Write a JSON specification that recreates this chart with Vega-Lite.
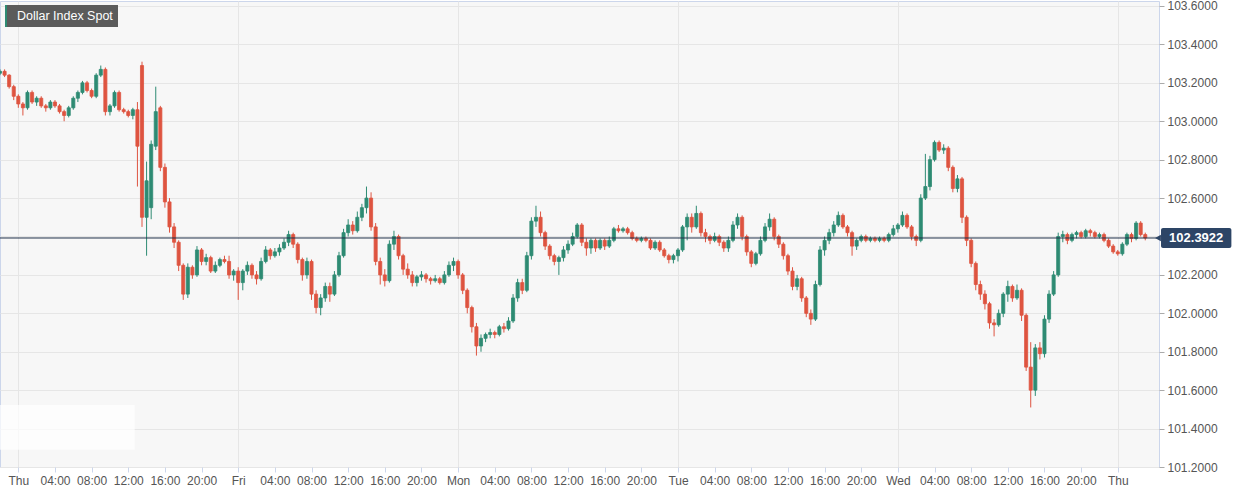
{
"$schema":"https://vega.github.io/schema/vega-lite/v6.json",
"width":1159,"height":466,"autosize":"none",
"padding":{"left":0,"top":1,"right":77,"bottom":28},
"background":"#ffffff",
"config":{"view":{"fill":"#f7f7f7","stroke":"#ccd6eb","strokeWidth":1},"font":"Liberation Sans"},
"resolve":{"axis":{"x":"independent","y":"independent"}},
"datasets":{
"candles":[
{"t":-2,"o":103.25,"h":103.27,"l":103.24,"c":103.26},
{"t":-1.5,"o":103.26,"h":103.27,"l":103.23,"c":103.24},
{"t":-1,"o":103.24,"h":103.245,"l":103.17,"c":103.18},
{"t":-0.5,"o":103.18,"h":103.19,"l":103.11,"c":103.13},
{"t":0,"o":103.13,"h":103.14,"l":103.07,"c":103.09},
{"t":0.5,"o":103.09,"h":103.1,"l":103.03,"c":103.07},
{"t":1,"o":103.07,"h":103.16,"l":103.06,"c":103.15},
{"t":1.5,"o":103.15,"h":103.16,"l":103.09,"c":103.1},
{"t":2,"o":103.1,"h":103.13,"l":103.08,"c":103.12},
{"t":2.5,"o":103.12,"h":103.13,"l":103.07,"c":103.08},
{"t":3,"o":103.08,"h":103.09,"l":103.05,"c":103.07},
{"t":3.5,"o":103.07,"h":103.11,"l":103.06,"c":103.1},
{"t":4,"o":103.1,"h":103.11,"l":103.07,"c":103.08},
{"t":4.5,"o":103.08,"h":103.09,"l":103.04,"c":103.05},
{"t":5,"o":103.05,"h":103.06,"l":103.0,"c":103.03},
{"t":5.5,"o":103.03,"h":103.08,"l":103.02,"c":103.07},
{"t":6,"o":103.07,"h":103.13,"l":103.06,"c":103.12},
{"t":6.5,"o":103.12,"h":103.16,"l":103.1,"c":103.15},
{"t":7,"o":103.15,"h":103.21,"l":103.14,"c":103.2},
{"t":7.5,"o":103.2,"h":103.21,"l":103.15,"c":103.16},
{"t":8,"o":103.16,"h":103.17,"l":103.12,"c":103.13},
{"t":8.5,"o":103.13,"h":103.25,"l":103.12,"c":103.24},
{"t":9,"o":103.24,"h":103.29,"l":103.23,"c":103.27},
{"t":9.5,"o":103.27,"h":103.28,"l":103.03,"c":103.05},
{"t":10,"o":103.05,"h":103.09,"l":103.03,"c":103.08},
{"t":10.5,"o":103.08,"h":103.16,"l":103.07,"c":103.15},
{"t":11,"o":103.15,"h":103.16,"l":103.05,"c":103.06},
{"t":11.5,"o":103.06,"h":103.07,"l":103.04,"c":103.05},
{"t":12,"o":103.05,"h":103.06,"l":103.02,"c":103.03},
{"t":12.5,"o":103.03,"h":103.07,"l":103.01,"c":103.06},
{"t":13,"o":103.06,"h":103.1,"l":102.66,"c":102.87},
{"t":13.5,"o":103.29,"h":103.31,"l":102.45,"c":102.5},
{"t":14,"o":102.5,"h":102.79,"l":102.3,"c":102.69},
{"t":14.5,"o":102.55,"h":102.9,"l":102.49,"c":102.88},
{"t":15,"o":102.87,"h":103.18,"l":102.85,"c":103.05},
{"t":15.5,"o":103.07,"h":103.08,"l":102.74,"c":102.76},
{"t":16,"o":102.76,"h":102.78,"l":102.55,"c":102.58},
{"t":16.5,"o":102.58,"h":102.6,"l":102.42,"c":102.45},
{"t":17,"o":102.45,"h":102.47,"l":102.34,"c":102.37},
{"t":17.5,"o":102.37,"h":102.38,"l":102.22,"c":102.25},
{"t":18,"o":102.25,"h":102.26,"l":102.07,"c":102.1},
{"t":18.5,"o":102.1,"h":102.26,"l":102.08,"c":102.24},
{"t":19,"o":102.24,"h":102.25,"l":102.18,"c":102.2},
{"t":19.5,"o":102.2,"h":102.35,"l":102.19,"c":102.33},
{"t":20,"o":102.33,"h":102.34,"l":102.25,"c":102.27},
{"t":20.5,"o":102.27,"h":102.31,"l":102.25,"c":102.29},
{"t":21,"o":102.29,"h":102.3,"l":102.21,"c":102.22},
{"t":21.5,"o":102.22,"h":102.27,"l":102.21,"c":102.25},
{"t":22,"o":102.25,"h":102.29,"l":102.24,"c":102.28},
{"t":22.5,"o":102.28,"h":102.3,"l":102.26,"c":102.27},
{"t":23,"o":102.27,"h":102.3,"l":102.18,"c":102.2},
{"t":23.5,"o":102.2,"h":102.23,"l":102.17,"c":102.22},
{"t":24,"o":102.22,"h":102.24,"l":102.07,"c":102.16},
{"t":24.5,"o":102.16,"h":102.23,"l":102.12,"c":102.22},
{"t":25,"o":102.22,"h":102.27,"l":102.2,"c":102.25},
{"t":25.5,"o":102.25,"h":102.26,"l":102.18,"c":102.2},
{"t":26,"o":102.2,"h":102.22,"l":102.15,"c":102.18},
{"t":26.5,"o":102.18,"h":102.29,"l":102.17,"c":102.27},
{"t":27,"o":102.27,"h":102.35,"l":102.26,"c":102.33},
{"t":27.5,"o":102.33,"h":102.34,"l":102.28,"c":102.3},
{"t":28,"o":102.3,"h":102.34,"l":102.29,"c":102.32},
{"t":28.5,"o":102.32,"h":102.36,"l":102.3,"c":102.34},
{"t":29,"o":102.34,"h":102.39,"l":102.33,"c":102.37},
{"t":29.5,"o":102.37,"h":102.43,"l":102.35,"c":102.41},
{"t":30,"o":102.41,"h":102.42,"l":102.34,"c":102.36},
{"t":30.5,"o":102.36,"h":102.37,"l":102.26,"c":102.28},
{"t":31,"o":102.28,"h":102.29,"l":102.17,"c":102.2},
{"t":31.5,"o":102.2,"h":102.29,"l":102.18,"c":102.27},
{"t":32,"o":102.27,"h":102.28,"l":102.07,"c":102.1},
{"t":32.5,"o":102.1,"h":102.12,"l":102.0,"c":102.03},
{"t":33,"o":102.03,"h":102.1,"l":101.99,"c":102.08},
{"t":33.5,"o":102.08,"h":102.16,"l":102.06,"c":102.14},
{"t":34,"o":102.14,"h":102.16,"l":102.06,"c":102.1},
{"t":34.5,"o":102.1,"h":102.22,"l":102.09,"c":102.2},
{"t":35,"o":102.2,"h":102.32,"l":102.19,"c":102.3},
{"t":35.5,"o":102.3,"h":102.44,"l":102.29,"c":102.42},
{"t":36,"o":102.42,"h":102.49,"l":102.4,"c":102.46},
{"t":36.5,"o":102.46,"h":102.48,"l":102.41,"c":102.43},
{"t":37,"o":102.43,"h":102.53,"l":102.42,"c":102.5},
{"t":37.5,"o":102.5,"h":102.57,"l":102.48,"c":102.55},
{"t":38,"o":102.55,"h":102.66,"l":102.52,"c":102.6},
{"t":38.5,"o":102.6,"h":102.63,"l":102.43,"c":102.45},
{"t":39,"o":102.45,"h":102.47,"l":102.25,"c":102.27},
{"t":39.5,"o":102.27,"h":102.29,"l":102.15,"c":102.2},
{"t":40,"o":102.2,"h":102.23,"l":102.14,"c":102.17},
{"t":40.5,"o":102.17,"h":102.38,"l":102.16,"c":102.36},
{"t":41,"o":102.36,"h":102.43,"l":102.33,"c":102.4},
{"t":41.5,"o":102.4,"h":102.41,"l":102.28,"c":102.3},
{"t":42,"o":102.3,"h":102.31,"l":102.2,"c":102.23},
{"t":42.5,"o":102.23,"h":102.26,"l":102.18,"c":102.2},
{"t":43,"o":102.2,"h":102.22,"l":102.14,"c":102.16},
{"t":43.5,"o":102.16,"h":102.2,"l":102.14,"c":102.19},
{"t":44,"o":102.19,"h":102.22,"l":102.17,"c":102.2},
{"t":44.5,"o":102.2,"h":102.21,"l":102.16,"c":102.18},
{"t":45,"o":102.18,"h":102.19,"l":102.15,"c":102.17},
{"t":45.5,"o":102.17,"h":102.2,"l":102.16,"c":102.18},
{"t":46,"o":102.18,"h":102.19,"l":102.15,"c":102.16},
{"t":46.5,"o":102.16,"h":102.22,"l":102.15,"c":102.2},
{"t":47,"o":102.2,"h":102.27,"l":102.19,"c":102.25},
{"t":47.5,"o":102.25,"h":102.29,"l":102.22,"c":102.27},
{"t":48,"o":102.27,"h":102.28,"l":102.18,"c":102.2},
{"t":48.5,"o":102.2,"h":102.21,"l":102.1,"c":102.12},
{"t":49,"o":102.12,"h":102.13,"l":102.0,"c":102.03},
{"t":49.5,"o":102.03,"h":102.04,"l":101.9,"c":101.93},
{"t":50,"o":101.93,"h":101.95,"l":101.78,"c":101.83},
{"t":50.5,"o":101.83,"h":101.89,"l":101.8,"c":101.87},
{"t":51,"o":101.87,"h":101.9,"l":101.85,"c":101.89},
{"t":51.5,"o":101.89,"h":101.92,"l":101.87,"c":101.9},
{"t":52,"o":101.9,"h":101.91,"l":101.87,"c":101.89},
{"t":52.5,"o":101.89,"h":101.94,"l":101.88,"c":101.93},
{"t":53,"o":101.93,"h":101.95,"l":101.9,"c":101.92},
{"t":53.5,"o":101.92,"h":101.98,"l":101.91,"c":101.96},
{"t":54,"o":101.96,"h":102.1,"l":101.95,"c":102.08},
{"t":54.5,"o":102.08,"h":102.18,"l":102.06,"c":102.16},
{"t":55,"o":102.16,"h":102.18,"l":102.1,"c":102.12},
{"t":55.5,"o":102.12,"h":102.32,"l":102.11,"c":102.3},
{"t":56,"o":102.3,"h":102.5,"l":102.28,"c":102.48},
{"t":56.5,"o":102.48,"h":102.56,"l":102.45,"c":102.5},
{"t":57,"o":102.5,"h":102.53,"l":102.4,"c":102.42},
{"t":57.5,"o":102.42,"h":102.43,"l":102.33,"c":102.35},
{"t":58,"o":102.35,"h":102.36,"l":102.28,"c":102.3},
{"t":58.5,"o":102.3,"h":102.31,"l":102.25,"c":102.27},
{"t":59,"o":102.27,"h":102.3,"l":102.2,"c":102.29},
{"t":59.5,"o":102.29,"h":102.35,"l":102.27,"c":102.33},
{"t":60,"o":102.33,"h":102.38,"l":102.31,"c":102.36},
{"t":60.5,"o":102.36,"h":102.42,"l":102.35,"c":102.4},
{"t":61,"o":102.4,"h":102.47,"l":102.39,"c":102.46},
{"t":61.5,"o":102.46,"h":102.47,"l":102.35,"c":102.37},
{"t":62,"o":102.37,"h":102.39,"l":102.3,"c":102.34},
{"t":62.5,"o":102.34,"h":102.39,"l":102.31,"c":102.38},
{"t":63,"o":102.38,"h":102.39,"l":102.32,"c":102.34},
{"t":63.5,"o":102.34,"h":102.39,"l":102.33,"c":102.38},
{"t":64,"o":102.38,"h":102.39,"l":102.33,"c":102.35},
{"t":64.5,"o":102.35,"h":102.4,"l":102.34,"c":102.38},
{"t":65,"o":102.38,"h":102.45,"l":102.37,"c":102.44},
{"t":65.5,"o":102.44,"h":102.46,"l":102.42,"c":102.43},
{"t":66,"o":102.43,"h":102.45,"l":102.42,"c":102.44},
{"t":66.5,"o":102.44,"h":102.45,"l":102.41,"c":102.42},
{"t":67,"o":102.42,"h":102.43,"l":102.38,"c":102.39},
{"t":67.5,"o":102.39,"h":102.4,"l":102.37,"c":102.38},
{"t":68,"o":102.38,"h":102.4,"l":102.37,"c":102.39},
{"t":68.5,"o":102.39,"h":102.4,"l":102.37,"c":102.38},
{"t":69,"o":102.38,"h":102.39,"l":102.33,"c":102.34},
{"t":69.5,"o":102.34,"h":102.38,"l":102.33,"c":102.37},
{"t":70,"o":102.37,"h":102.38,"l":102.32,"c":102.33},
{"t":70.5,"o":102.33,"h":102.34,"l":102.29,"c":102.3},
{"t":71,"o":102.3,"h":102.31,"l":102.26,"c":102.28},
{"t":71.5,"o":102.28,"h":102.31,"l":102.26,"c":102.3},
{"t":72,"o":102.3,"h":102.34,"l":102.27,"c":102.33},
{"t":72.5,"o":102.33,"h":102.46,"l":102.32,"c":102.45},
{"t":73,"o":102.45,"h":102.52,"l":102.38,"c":102.5},
{"t":73.5,"o":102.5,"h":102.52,"l":102.42,"c":102.45},
{"t":74,"o":102.45,"h":102.56,"l":102.44,"c":102.52},
{"t":74.5,"o":102.52,"h":102.53,"l":102.4,"c":102.42},
{"t":75,"o":102.42,"h":102.44,"l":102.37,"c":102.4},
{"t":75.5,"o":102.4,"h":102.41,"l":102.36,"c":102.38},
{"t":76,"o":102.38,"h":102.42,"l":102.37,"c":102.4},
{"t":76.5,"o":102.4,"h":102.41,"l":102.35,"c":102.37},
{"t":77,"o":102.37,"h":102.38,"l":102.32,"c":102.34},
{"t":77.5,"o":102.34,"h":102.4,"l":102.32,"c":102.38},
{"t":78,"o":102.38,"h":102.48,"l":102.37,"c":102.46},
{"t":78.5,"o":102.46,"h":102.52,"l":102.44,"c":102.5},
{"t":79,"o":102.5,"h":102.51,"l":102.38,"c":102.4},
{"t":79.5,"o":102.4,"h":102.41,"l":102.3,"c":102.32},
{"t":80,"o":102.32,"h":102.33,"l":102.24,"c":102.26},
{"t":80.5,"o":102.26,"h":102.32,"l":102.25,"c":102.31},
{"t":81,"o":102.31,"h":102.4,"l":102.3,"c":102.38},
{"t":81.5,"o":102.38,"h":102.47,"l":102.37,"c":102.45},
{"t":82,"o":102.45,"h":102.52,"l":102.43,"c":102.49},
{"t":82.5,"o":102.49,"h":102.5,"l":102.38,"c":102.4},
{"t":83,"o":102.4,"h":102.41,"l":102.34,"c":102.36},
{"t":83.5,"o":102.36,"h":102.37,"l":102.28,"c":102.3},
{"t":84,"o":102.3,"h":102.31,"l":102.2,"c":102.22},
{"t":84.5,"o":102.22,"h":102.24,"l":102.12,"c":102.14},
{"t":85,"o":102.14,"h":102.2,"l":102.12,"c":102.18},
{"t":85.5,"o":102.18,"h":102.19,"l":102.06,"c":102.08},
{"t":86,"o":102.08,"h":102.09,"l":101.98,"c":102.0},
{"t":86.5,"o":102.0,"h":102.02,"l":101.94,"c":101.97},
{"t":87,"o":101.97,"h":102.17,"l":101.96,"c":102.15},
{"t":87.5,"o":102.15,"h":102.35,"l":102.14,"c":102.33},
{"t":88,"o":102.33,"h":102.4,"l":102.3,"c":102.38},
{"t":88.5,"o":102.38,"h":102.44,"l":102.36,"c":102.42},
{"t":89,"o":102.42,"h":102.48,"l":102.4,"c":102.46},
{"t":89.5,"o":102.46,"h":102.53,"l":102.45,"c":102.51},
{"t":90,"o":102.51,"h":102.52,"l":102.44,"c":102.45},
{"t":90.5,"o":102.45,"h":102.46,"l":102.4,"c":102.42},
{"t":91,"o":102.42,"h":102.43,"l":102.3,"c":102.35},
{"t":91.5,"o":102.35,"h":102.39,"l":102.33,"c":102.38},
{"t":92,"o":102.38,"h":102.41,"l":102.37,"c":102.4},
{"t":92.5,"o":102.4,"h":102.41,"l":102.37,"c":102.38},
{"t":93,"o":102.38,"h":102.4,"l":102.37,"c":102.39},
{"t":93.5,"o":102.39,"h":102.4,"l":102.37,"c":102.38},
{"t":94,"o":102.38,"h":102.4,"l":102.37,"c":102.39},
{"t":94.5,"o":102.39,"h":102.4,"l":102.37,"c":102.38},
{"t":95,"o":102.38,"h":102.42,"l":102.37,"c":102.41},
{"t":95.5,"o":102.41,"h":102.46,"l":102.4,"c":102.44},
{"t":96,"o":102.44,"h":102.47,"l":102.42,"c":102.46},
{"t":96.5,"o":102.46,"h":102.53,"l":102.45,"c":102.51},
{"t":97,"o":102.51,"h":102.52,"l":102.44,"c":102.45},
{"t":97.5,"o":102.45,"h":102.46,"l":102.38,"c":102.4},
{"t":98,"o":102.4,"h":102.41,"l":102.35,"c":102.38},
{"t":98.5,"o":102.38,"h":102.62,"l":102.37,"c":102.6},
{"t":99,"o":102.6,"h":102.83,"l":102.59,"c":102.66},
{"t":99.5,"o":102.66,"h":102.82,"l":102.64,"c":102.8},
{"t":100,"o":102.8,"h":102.9,"l":102.79,"c":102.89},
{"t":100.5,"o":102.89,"h":102.9,"l":102.84,"c":102.85},
{"t":101,"o":102.85,"h":102.88,"l":102.83,"c":102.86},
{"t":101.5,"o":102.86,"h":102.87,"l":102.74,"c":102.76},
{"t":102,"o":102.76,"h":102.77,"l":102.63,"c":102.65},
{"t":102.5,"o":102.65,"h":102.72,"l":102.63,"c":102.7},
{"t":103,"o":102.7,"h":102.71,"l":102.47,"c":102.5},
{"t":103.5,"o":102.5,"h":102.51,"l":102.35,"c":102.38},
{"t":104,"o":102.38,"h":102.39,"l":102.24,"c":102.26},
{"t":104.5,"o":102.26,"h":102.27,"l":102.12,"c":102.15},
{"t":105,"o":102.15,"h":102.17,"l":102.07,"c":102.1},
{"t":105.5,"o":102.1,"h":102.12,"l":102.02,"c":102.05},
{"t":106,"o":102.05,"h":102.06,"l":101.92,"c":101.95},
{"t":106.5,"o":101.95,"h":101.97,"l":101.88,"c":101.94},
{"t":107,"o":101.94,"h":102.02,"l":101.93,"c":102.0},
{"t":107.5,"o":102.0,"h":102.11,"l":101.98,"c":102.1},
{"t":108,"o":102.1,"h":102.17,"l":102.06,"c":102.14},
{"t":108.5,"o":102.14,"h":102.15,"l":102.06,"c":102.08},
{"t":109,"o":102.08,"h":102.15,"l":102.07,"c":102.12},
{"t":109.5,"o":102.12,"h":102.13,"l":101.96,"c":101.99},
{"t":110,"o":101.99,"h":102.0,"l":101.7,"c":101.72},
{"t":110.5,"o":101.72,"h":101.85,"l":101.51,"c":101.6},
{"t":111,"o":101.6,"h":101.84,"l":101.57,"c":101.82},
{"t":111.5,"o":101.82,"h":101.85,"l":101.76,"c":101.79},
{"t":112,"o":101.79,"h":101.99,"l":101.77,"c":101.97},
{"t":112.5,"o":101.97,"h":102.12,"l":101.95,"c":102.1},
{"t":113,"o":102.1,"h":102.22,"l":102.09,"c":102.2},
{"t":113.5,"o":102.2,"h":102.42,"l":102.19,"c":102.4},
{"t":114,"o":102.4,"h":102.43,"l":102.37,"c":102.41},
{"t":114.5,"o":102.41,"h":102.42,"l":102.36,"c":102.38},
{"t":115,"o":102.38,"h":102.42,"l":102.37,"c":102.41},
{"t":115.5,"o":102.41,"h":102.43,"l":102.39,"c":102.42},
{"t":116,"o":102.42,"h":102.43,"l":102.39,"c":102.4},
{"t":116.5,"o":102.4,"h":102.44,"l":102.39,"c":102.43},
{"t":117,"o":102.43,"h":102.44,"l":102.4,"c":102.42},
{"t":117.5,"o":102.42,"h":102.43,"l":102.39,"c":102.4},
{"t":118,"o":102.4,"h":102.42,"l":102.39,"c":102.41},
{"t":118.5,"o":102.41,"h":102.42,"l":102.37,"c":102.38},
{"t":119,"o":102.38,"h":102.39,"l":102.34,"c":102.35},
{"t":119.5,"o":102.35,"h":102.36,"l":102.31,"c":102.32},
{"t":120,"o":102.32,"h":102.33,"l":102.3,"c":102.31},
{"t":120.5,"o":102.31,"h":102.37,"l":102.3,"c":102.36},
{"t":121,"o":102.36,"h":102.42,"l":102.35,"c":102.41},
{"t":121.5,"o":102.41,"h":102.42,"l":102.37,"c":102.39},
{"t":122,"o":102.39,"h":102.48,"l":102.38,"c":102.47},
{"t":122.5,"o":102.47,"h":102.48,"l":102.4,"c":102.41},
{"t":123,"o":102.41,"h":102.42,"l":102.38,"c":102.3922}
],
"last":[{"t":124.39,"tx":124.72,"tx2":132.4,"tm":128.56,"p":102.3922,"ptop":102.444,"pbot":102.34,"label":"102.3922"}],
"title":[{"x1":-1.454,"x2":10.88,"xs":-1.236,"xt":-0.15,"y1":103.605,"y2":103.491,"ym":103.548,"label":"Dollar Index Spot"}],
"veil":[{"x1":-2,"x2":12.7,"y1":101.523,"y2":101.29}]
},
"layer":[
{"data":{"name":"candles"},"mark":{"type":"rule","strokeWidth":1},
 "encoding":{
  "x":{"field":"t","type":"quantitative","title":null,"scale":{"domain":[-2,124.5],"nice":false,"zero":false,"padding":0},
   "axis":{"values":[0,4,8,12,16,20,24,28,32,36,40,44,48,52,56,60,64,68,72,76,80,84,88,92,96,100,104,108,112,116,120],
    "labelExpr":"datum.value % 24 == 0 ? ['Thu','Fri','Mon','Tue','Wed','Thu'][datum.value/24] : ((datum.value % 24) < 10 ? '0' : '') + (datum.value % 24) + ':00'",
    "domain":false,"tickColor":"#ccd6eb","tickSize":5,"labelPadding":3,"labelFontSize":12,"labelColor":"#555555","labelFont":"Liberation Sans","labelFlush":false,"labelOverlap":false,
    "grid":true,"gridColor":{"condition":{"test":"datum.value % 24 == 0","value":"#e6e6e6"},"value":"transparent"},"gridWidth":1}},
  "y":{"field":"l","type":"quantitative","title":null,"scale":{"domain":[101.2,103.626],"nice":false,"zero":false,"padding":0},
   "axis":{"orient":"right","values":[101.2,101.4,101.6,101.8,102,102.2,102.4,102.6,102.8,103,103.2,103.4,103.6],
    "labelExpr":"abs(datum.value - 102.4) < 0.001 ? '' : format(datum.value, '.4f')",
    "domain":false,"tickColor":"#aaaaaa","tickSize":5,"labelPadding":3,"labelFontSize":12,"labelColor":"#555555","labelFont":"Liberation Sans","labelFlush":false,"labelOverlap":false,
    "grid":true,"gridColor":"#e6e6e6","gridWidth":1}},
  "y2":{"field":"h"},
  "color":{"condition":{"test":"datum.c >= datum.o","value":"#2e8b73"},"value":"#de5440"}}},
{"data":{"name":"veil"},"mark":{"type":"rect","fill":"#ffffff","opacity":0.7},
 "encoding":{"x":{"field":"x1","type":"quantitative","axis":null},"x2":{"field":"x2"},
 "y":{"field":"y1","type":"quantitative","axis":null},"y2":{"field":"y2"}}},
{"data":{"name":"candles"},"mark":{"type":"bar","size":3.1,"strokeWidth":0.8},
 "encoding":{
  "x":{"field":"t","type":"quantitative","axis":null},
  "y":{"field":"o","type":"quantitative","axis":null},
  "y2":{"field":"c"},
  "color":{"condition":{"test":"datum.c >= datum.o","value":"#2e8b73"},"value":"#de5440"},
  "stroke":{"condition":{"test":"datum.c >= datum.o","value":"#2e8b73"},"value":"#de5440"}}},
{"data":{"name":"last"},"mark":{"type":"rule","color":"#1f3048","strokeWidth":1},
 "encoding":{"y":{"field":"p","type":"quantitative","axis":null}}},
{"data":{"name":"last"},"mark":{"type":"rect","fill":"#2d4566","clip":false,"cornerRadius":2},
 "encoding":{"x":{"field":"tx","type":"quantitative","axis":null},"x2":{"field":"tx2"},
  "y":{"field":"ptop","type":"quantitative","axis":null},"y2":{"field":"pbot"}}},
{"data":{"name":"last"},"mark":{"type":"point","shape":"triangle-left","filled":true,"size":45,"color":"#2d4566","opacity":1,"clip":false},
 "encoding":{"x":{"field":"t","type":"quantitative","axis":null},"y":{"field":"p","type":"quantitative","axis":null}}},
{"data":{"name":"last"},"mark":{"type":"text","color":"#ffffff","fontSize":13,"fontWeight":"bold","font":"Liberation Sans","align":"center","baseline":"middle","clip":false},
 "encoding":{"x":{"field":"tm","type":"quantitative","axis":null},"y":{"field":"p","type":"quantitative","axis":null},"text":{"field":"label"}}},
{"data":{"name":"title"},"mark":{"type":"rect","fill":"#5b5b5b"},
 "encoding":{"x":{"field":"x1","type":"quantitative","axis":null},"x2":{"field":"x2"},
  "y":{"field":"y1","type":"quantitative","axis":null},"y2":{"field":"y2"}}},
{"data":{"name":"title"},"mark":{"type":"rect","fill":"#2e8b73"},
 "encoding":{"x":{"field":"x1","type":"quantitative","axis":null},"x2":{"field":"xs"},
  "y":{"field":"y1","type":"quantitative","axis":null},"y2":{"field":"y2"}}},
{"data":{"name":"title"},"mark":{"type":"text","color":"#ffffff","fontSize":12.5,"font":"Liberation Sans","align":"left","baseline":"middle"},
 "encoding":{"x":{"field":"xt","type":"quantitative","axis":null},"y":{"field":"ym","type":"quantitative","axis":null},"text":{"field":"label"}}}
]
}
